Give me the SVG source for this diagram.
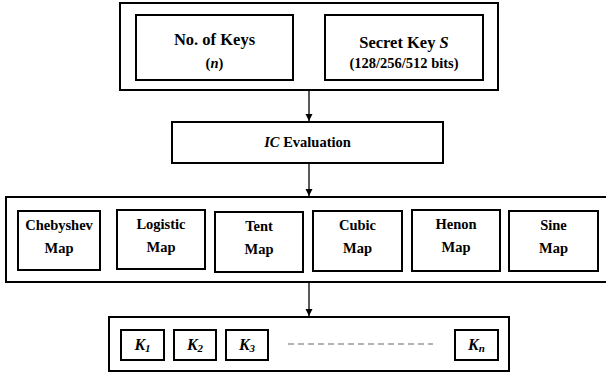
<svg xmlns="http://www.w3.org/2000/svg" width="606" height="374" viewBox="0 0 606 374">
  <defs>
    <marker id="arrow" markerWidth="8" markerHeight="8" refX="7" refY="4" orient="auto" markerUnits="userSpaceOnUse">
      <path d="M0,0.5 L7,4 L0,7.5 Z" fill="#000"/>
    </marker>
    <style>
      .box { fill: #fff; stroke: #000; stroke-width: 2; }
      .lbl { font-weight: bold; font-size: 14.5px; fill: #000; text-anchor: middle; }
      .head { font-size: 16.5px; }
      .key { font-weight: bold; font-style: italic; font-size: 16px; fill: #000; text-anchor: middle; }
      .sub { font-size: 11px; }
      .conn { stroke: #000; stroke-width: 1.3; fill: none; }
    </style>
  </defs>
  <rect width="606" height="374" fill="#fff"/>

  <g font-family="'Liberation Serif', 'DejaVu Serif', 'Times New Roman', serif">
  <!-- Inputs -->
  <g id="inputs">
    <rect class="box" x="120" y="3" width="378" height="87"/>
    <g id="num-keys">
      <rect class="box" x="136" y="15" width="157" height="65"/>
      <text class="lbl head" x="214.5" y="45">No. of Keys</text>
      <text class="lbl" x="214.5" y="68">(<tspan font-style="italic">n</tspan>)</text>
    </g>
    <g id="secret-key">
      <rect class="box" x="325" y="15" width="158" height="65"/>
      <text class="lbl head" x="404" y="48">Secret Key <tspan font-style="italic">S</tspan></text>
      <text class="lbl" x="404" y="68">(128/256/512 bits)</text>
    </g>
  </g>

  <!-- Initial condition evaluation -->
  <g id="ic-eval">
    <rect class="box" x="172" y="122" width="271" height="41"/>
    <text class="lbl" x="307.5" y="147"><tspan font-style="italic">IC</tspan> Evaluation</text>
  </g>

  <!-- Chaotic maps -->
  <g id="maps">
    <rect class="box" x="6" y="197" width="604" height="85"/>
    <g id="chebyshev">
      <rect class="box" x="18" y="211" width="82" height="59"/>
      <text class="lbl" x="59" y="230">Chebyshev</text>
      <text class="lbl" x="59" y="253">Map</text>
    </g>
    <g id="logistic">
      <rect class="box" x="117" y="210" width="88" height="59"/>
      <text class="lbl" x="161" y="229">Logistic</text>
      <text class="lbl" x="161" y="252">Map</text>
    </g>
    <g id="tent">
      <rect class="box" x="215" y="212" width="88" height="60"/>
      <text class="lbl" x="259" y="231">Tent</text>
      <text class="lbl" x="259" y="254">Map</text>
    </g>
    <g id="cubic">
      <rect class="box" x="313" y="211" width="89" height="60"/>
      <text class="lbl" x="357.5" y="230">Cubic</text>
      <text class="lbl" x="357.5" y="253">Map</text>
    </g>
    <g id="henon">
      <rect class="box" x="412" y="210" width="88" height="61"/>
      <text class="lbl" x="456" y="229">Henon</text>
      <text class="lbl" x="456" y="252">Map</text>
    </g>
    <g id="sine">
      <rect class="box" x="509" y="211" width="89" height="60"/>
      <text class="lbl" x="553.5" y="230">Sine</text>
      <text class="lbl" x="553.5" y="253">Map</text>
    </g>
  </g>

  <!-- Generated keys -->
  <g id="keys">
    <rect class="box" x="109" y="317" width="400" height="54"/>
    <g id="k1">
      <rect class="box" x="121" y="330" width="43" height="30"/>
      <text class="key" x="142.5" y="350">K<tspan class="sub" dy="2">1</tspan></text>
    </g>
    <g id="k2">
      <rect class="box" x="174" y="330" width="42" height="30"/>
      <text class="key" x="195" y="350">K<tspan class="sub" dy="2">2</tspan></text>
    </g>
    <g id="k3">
      <rect class="box" x="226" y="330" width="42" height="30"/>
      <text class="key" x="247" y="350">K<tspan class="sub" dy="2">3</tspan></text>
    </g>
    <line x1="288" y1="344" x2="433" y2="344" stroke="#999" stroke-width="1.3" stroke-dasharray="6,4"/>
    <g id="kn">
      <rect class="box" x="455" y="330" width="43" height="30"/>
      <text class="key" x="476.5" y="350">K<tspan class="sub" dy="2">n</tspan></text>
    </g>
  </g>
  </g>

  <!-- Connectors -->
  <g id="connectors">
    <line class="conn" x1="309" y1="90" x2="309" y2="121" marker-end="url(#arrow)"/>
    <line class="conn" x1="309" y1="163" x2="309" y2="196" marker-end="url(#arrow)"/>
    <line class="conn" x1="309" y1="282" x2="309" y2="316" marker-end="url(#arrow)"/>
  </g>
</svg>
